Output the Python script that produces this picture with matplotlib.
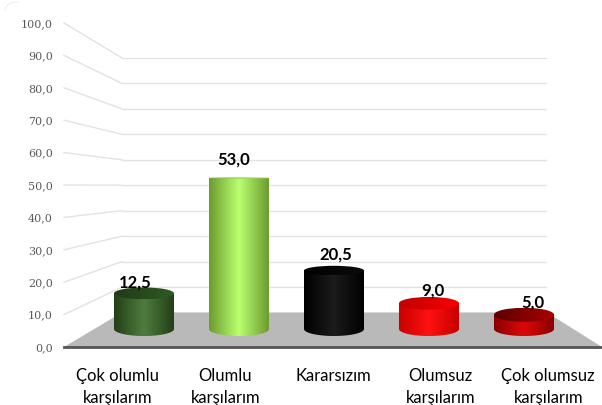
import numpy as np
import matplotlib
matplotlib.use("Agg")
import matplotlib.pyplot as plt
from matplotlib.colors import LinearSegmentedColormap
from matplotlib.patches import Arc, Ellipse, Polygon, PathPatch
from matplotlib.path import Path

categories = ["Çok olumlu\nkarşılarım", "Olumlu\nkarşılarım", "Kararsızım",
              "Olumsuz\nkarşılarım", "Çok olumsuz\nkarşılarım"]
values = [12.5, 53.0, 20.5, 9.0, 5.0]
ticks = [0, 10, 20, 30, 40, 50, 60, 70, 80, 90, 100]

# edge, middle colours of the body, then dark/light of the top
body_colors = [("#233f18", "#4f7d3e"), ("#6c9c2e", "#baff70"), ("#000000", "#1c1c1c"),
               ("#c80000", "#ff1212"), ("#8a0000", "#dc0808")]
top_colors = [("#1f3a15", "#305a22"), ("#86bb45", "#a8e060"), ("#000000", "#0c0c0c"),
              ("#c00000", "#f80000"), ("#5c0000", "#a80000")]
label_dx = [-9, -5, 2, 4, 9]
label_dy = [11, 18, 16, 13, 12]

W, H = 602, 405
PX_PER_UNIT = 2.85   # bars plane
BASE_PY = 329
BAR_SPACING = 95
FIRST_BAR_PX = 144
EYE_PY = 175


def add_axes(x0, ytop, x1, ybot, **kw):
    ax = fig.add_axes([x0 / W, 1 - ybot / H, (x1 - x0) / W, (ybot - ytop) / H], **kw)
    ax.patch.set_alpha(0)
    return ax


fig = plt.figure(figsize=(W / 100, H / 100), dpi=100)

# back wall
ax_back = add_axes(122, 58, 547, 312.5, zorder=0)
ax_back.set_ylim(0, 100)
ax_back.set_xticks([])
ax_back.set_yticks(ticks)
ax_back.tick_params(length=0, labelleft=False)
ax_back.grid(True, axis="y", color="#e2e2e2", linewidth=1)
for s in ax_back.spines.values():
    s.set_visible(False)

# floor and side wall, in pixels
ax_px = add_axes(0, 0, W, H, zorder=1)
ax_px.set_xlim(0, W)
ax_px.set_ylim(H, 0)
ax_px.axis("off")
front_y = lambda v: 347 - 3.24 * v
back_y = lambda v: 312.5 - 2.545 * v
for t in ticks[1:]:
    ax_px.plot([64, 122], [front_y(t), back_y(t)], color="#e2e2e2", lw=1)
ax_px.add_patch(Polygon([(64, 347), (122, 312.5), (547, 312.5), (602, 347)], color="#b9b9b9", lw=0))
ax_px.add_patch(Arc((16, 11), 22, 18, theta1=180, theta2=290, color="#ececec", lw=0.8))

# front plane: tick labels and category labels
ax_front = add_axes(64, 23, W, 347, zorder=2)
ax_front.set_xlim(-0.5, 4.5)
ax_front.set_ylim(0, 100)
ax_front.set_yticks(ticks)
ax_front.set_yticklabels([f"{t:.1f}".replace(".", ",") for t in ticks],
                         fontsize=8, color="#5a5a5a", family="DejaVu Serif")
ax_front.set_xticks(range(5))
ax_front.set_xticklabels(categories, fontsize=12, family="Lato", color="#000000", linespacing=1.5)
ax_front.tick_params(axis="y", length=0, pad=8)
ax_front.tick_params(axis="x", length=0, pad=15)
for s in ["top", "left", "right"]:
    ax_front.spines[s].set_visible(False)
ax_front.spines["bottom"].set_color("#555555")
ax_front.spines["bottom"].set_linewidth(2)

# bars, x = category index, y = value on the bars' plane
ax = add_axes(0, 0, W, H, zorder=3)
ax.axis("off")
xlim = (-FIRST_BAR_PX / BAR_SPACING, (W - FIRST_BAR_PX) / BAR_SPACING)
ylim = ((BASE_PY - H) / PX_PER_UNIT, BASE_PY / PX_PER_UNIT)
half_w = 30 / BAR_SPACING

for i, v in enumerate(values):
    top_py = BASE_PY - v * PX_PER_UNIT
    b_top = max((top_py - EYE_PY) * 0.05, 0.6) / PX_PER_UNIT
    b_bot = 7 / PX_PER_UNIT
    t = np.linspace(np.pi, 2 * np.pi, 60)
    xs = i + half_w * np.cos(t)
    ys = b_bot * np.sin(t)
    verts = np.column_stack([np.r_[xs, i + half_w, i - half_w, i - half_w], np.r_[ys, v, v, 0]])
    clip = Path(verts, closed=False)
    cmap = LinearSegmentedColormap.from_list("b", [body_colors[i][0], body_colors[i][1], body_colors[i][0]])
    im = ax.imshow(np.linspace(0, 1, 128).reshape(1, -1), cmap=cmap, aspect="auto", interpolation="bilinear",
                   extent=(i - half_w, i + half_w, -b_bot, v), zorder=3)
    patch = PathPatch(clip, transform=ax.transData, fc="none", ec="none")
    ax.add_patch(patch)
    im.set_clip_path(patch)

    cmap_top = LinearSegmentedColormap.from_list("t", [top_colors[i][0], top_colors[i][1]])
    im2 = ax.imshow(np.linspace(0, 1, 64).reshape(1, -1), cmap=cmap_top, aspect="auto", interpolation="bilinear",
                    extent=(i - half_w, i + half_w, v - b_top, v + b_top), zorder=4)
    ell = Ellipse((i, v), 2 * half_w, 2 * b_top, transform=ax.transData, fc="none", ec="none")
    ax.add_patch(ell)
    im2.set_clip_path(ell)

    ax.annotate(f"{v:.1f}".replace(".", ","), (i, v), xytext=(label_dx[i] * 0.72, label_dy[i] * 0.72),
                textcoords="offset points", ha="center", va="center", fontsize=12,
                family="Lato", fontweight="bold", color="black", zorder=5)

ax.set_xlim(xlim)
ax.set_ylim(ylim)

fig.savefig("out.png", dpi=100)
